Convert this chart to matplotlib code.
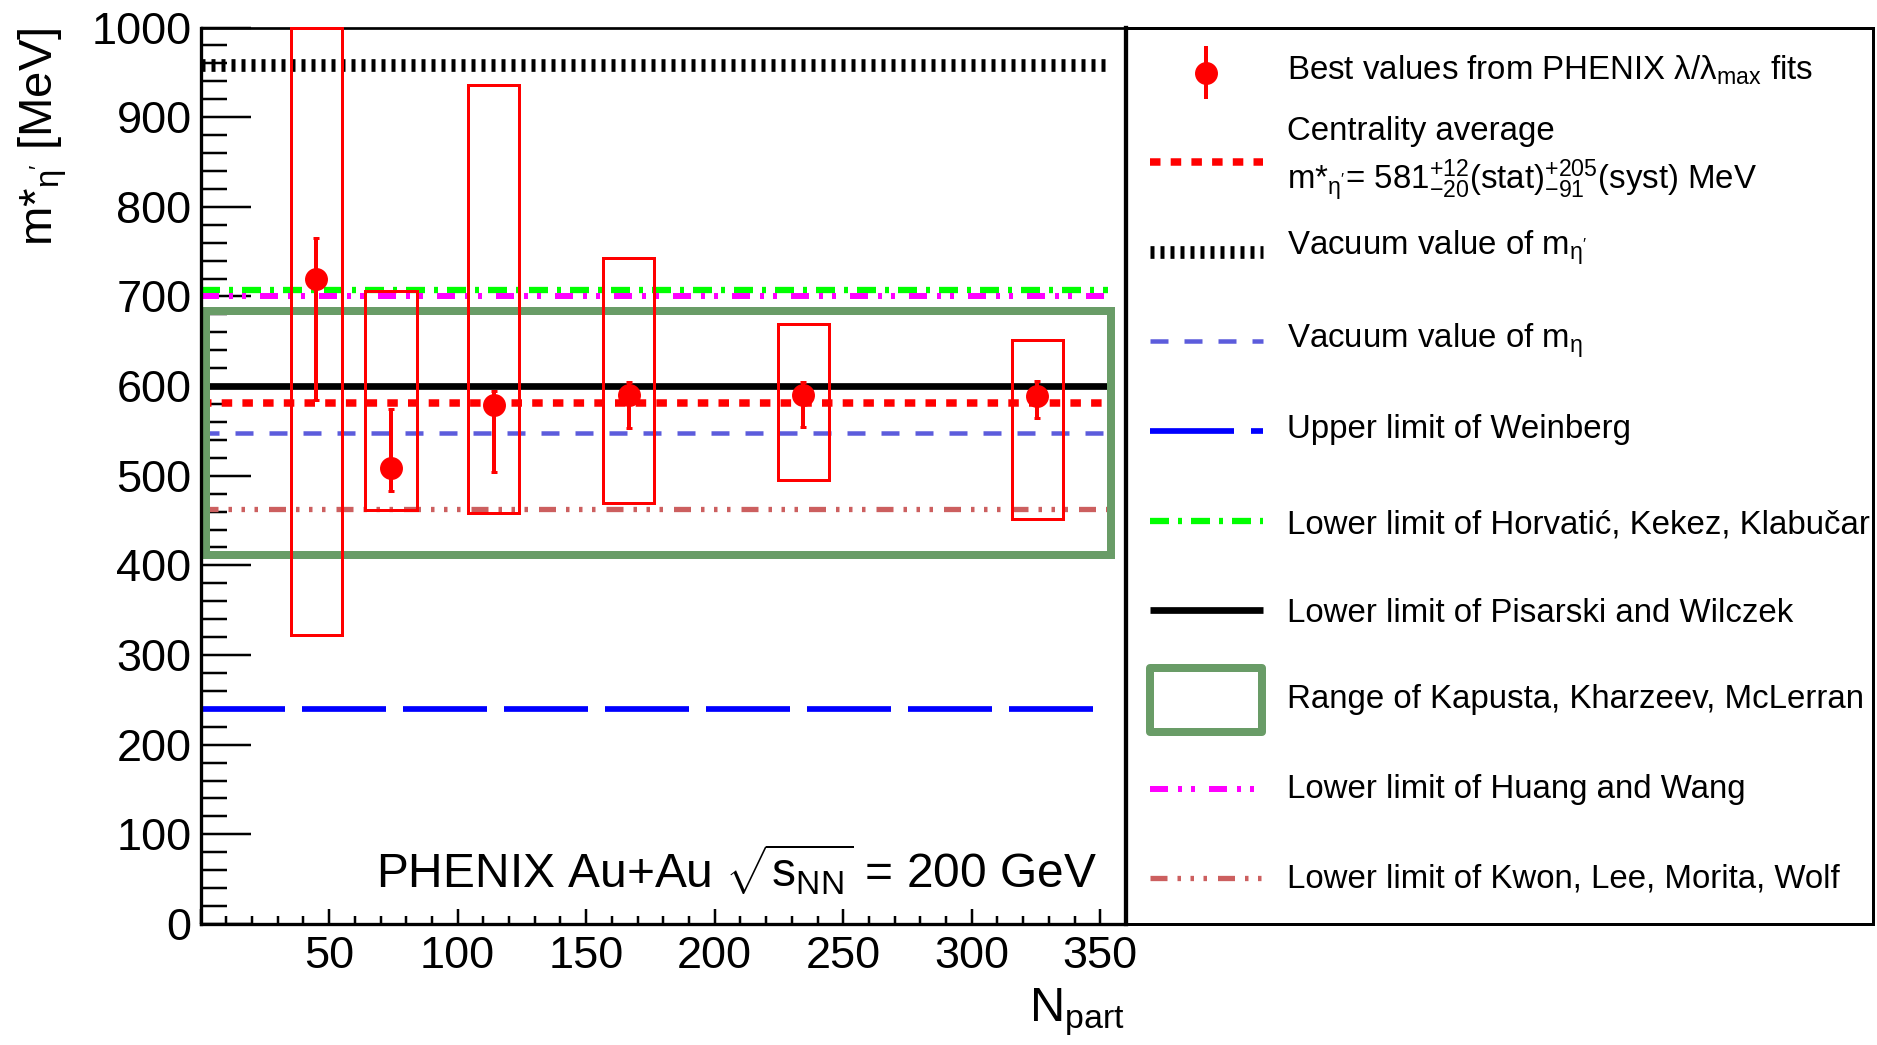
import matplotlib
matplotlib.use('Agg')
import matplotlib.pyplot as plt
from matplotlib.patches import Rectangle
from matplotlib.ticker import MultipleLocator, FuncFormatter

plt.rcParams['font.family'] = ['Liberation Sans', 'DejaVu Sans']
plt.rcParams['mathtext.fontset'] = 'custom'
plt.rcParams['mathtext.rm'] = 'Liberation Sans'
plt.rcParams['mathtext.it'] = 'Liberation Sans:italic'
plt.rcParams['mathtext.bf'] = 'Liberation Sans:bold'
plt.rcParams['lines.scale_dashes'] = False

# ---------------- data ----------------
npart = [45, 74, 114, 166.5, 234.5, 325.5]
mass = [719, 509, 579, 590, 590, 589]
stat_hi = [765, 575, 594, 605, 605, 606]
stat_lo = [584, 483, 504, 553, 554, 564]
syst_hi = [1000, 706, 936, 743, 669, 651]
syst_lo = [322, 462, 458, 470, 495, 452]

vac_etaprime = 958
centrality_avg = 581
vac_eta = 548
weinberg_upper = 240
horvatic_lower = 707
pisarski_lower = 600
huang_lower = 700
kwon_lower = 463
kapusta_range = [412, 684]
line_x_range = [0, 353]
kapusta_x_range = [2, 354]

legend_labels = [
    r'Best values from PHENIX $\mathregular{λ/λ_{max}}$ fits',
    'Centrality average',
    r"m*$\mathregular{_{η'}}$= 581$\mathregular{^{+12}_{-20}(stat)^{+205}_{-91}(syst)}$ MeV",
    r"Vacuum value of $\mathregular{m_{η'}}$",
    r'Vacuum value of $\mathregular{m_{η}}$',
    'Upper limit of Weinberg',
    'Lower limit of Horvatić, Kekez, Klabučar',
    'Lower limit of Pisarski and Wilczek',
    'Range of Kapusta, Kharzeev, McLerran',
    'Lower limit of Huang and Wang',
    'Lower limit of Kwon, Lee, Morita, Wolf',
]

# ---------------- styling helpers ----------------
PX = 0.72  # points per pixel at dpi 100
W, H = 1877, 1045


def box(l, t, r, b):
    return [l / W, 1 - b / H, (r - l) / W, (b - t) / H]


def dash(*px):
    return [v * PX for v in px]


RED = '#ff0000'
styles = {
    'etap': dict(color='black', lw=12.7 * PX, dashes=dash(4, 6)),
    'avg': dict(color=RED, lw=7.5 * PX, dashes=dash(10.5, 10.2)),
    'eta': dict(color='#5c5cdc', lw=4.5 * PX, dashes=dash(18, 16)),
    'wein': dict(color='#0000ff', lw=5.7 * PX, dashes=dash(84, 17)),
    'horv': dict(color='#00ff00', lw=6.3 * PX, dashes=dash(19, 9, 4, 9)),
    'pis': dict(color='black', lw=6.7 * PX, dashes=None),
    'huang': dict(color='#ff00ff', lw=6.0 * PX, dashes=dash(18, 10, 4, 9, 4, 14)),
    'kwon': dict(color='#cc5f5f', lw=5.3 * PX, dashes=dash(17, 10, 3.5, 9.5, 3.5, 9.5, 3.5, 11)),
}
KAP_COLOR = '#699c67'
KAP_LW = 8 * PX


def draw_line(axis, xs, ys, st, z=2):
    kw = dict(color=st['color'], lw=st['lw'], solid_capstyle='butt',
              dash_capstyle='butt', zorder=z)
    if st['dashes'] is not None:
        kw['dashes'] = st['dashes']
    axis.plot(xs, ys, **kw)


fig = plt.figure(figsize=(18.77, 10.45), dpi=100)
ax = fig.add_axes(box(200.6, 27.5, 1126, 924))
ax.set_xlim(0, 360)
ax.set_ylim(0, 1000)

# horizontal reference lines
for key, val in [('etap', vac_etaprime), ('horv', horvatic_lower), ('huang', huang_lower),
                 ('pis', pisarski_lower), ('eta', vac_eta), ('kwon', kwon_lower),
                 ('wein', weinberg_upper), ('avg', centrality_avg)]:
    draw_line(ax, line_x_range, [val, val], styles[key])

# Kapusta range box
ax.add_patch(Rectangle((kapusta_x_range[0], kapusta_range[0]),
                       kapusta_x_range[1] - kapusta_x_range[0],
                       kapusta_range[1] - kapusta_range[0],
                       fill=False, edgecolor=KAP_COLOR, lw=KAP_LW, zorder=2.5))

# systematic boxes
half_w = 10
for x, lo, hi in zip(npart, syst_lo, syst_hi):
    ax.add_patch(Rectangle((x - half_w, lo), 2 * half_w, hi - lo, fill=False,
                           edgecolor=RED, lw=3 * PX, zorder=3, clip_on=False))

# points with stat errors
yerr = [[m - l for m, l in zip(mass, stat_lo)], [h - m for m, h in zip(mass, stat_hi)]]
ax.errorbar(npart, mass, yerr=yerr, fmt='o', color=RED, ms=15.5, elinewidth=4 * PX,
            capsize=2.5, capthick=3 * PX, zorder=5)

# axes styling
ax.xaxis.set_major_locator(MultipleLocator(50))
ax.xaxis.set_minor_locator(MultipleLocator(10))
ax.yaxis.set_major_locator(MultipleLocator(100))
ax.yaxis.set_minor_locator(MultipleLocator(20))
ax.xaxis.set_major_formatter(FuncFormatter(lambda v, p: '' if v == 0 else '%d' % v))
ax.tick_params(axis='x', which='major', direction='in', length=15 * PX, width=2.5 * PX,
               labelsize=32.5, pad=9, top=False)
ax.tick_params(axis='x', which='minor', direction='in', length=8 * PX, width=2.5 * PX, top=False)
ax.tick_params(axis='y', which='major', direction='in', length=50 * PX, width=2.5 * PX,
               labelsize=32.5, pad=6.5, right=False)
ax.tick_params(axis='y', which='minor', direction='in', length=26 * PX, width=2.5 * PX, right=False)
for s in ['left', 'bottom']:
    ax.spines[s].set_linewidth(3.3 * PX)
ax.spines['top'].set_linewidth(2.7 * PX)
ax.spines['right'].set_linewidth(4.3 * PX)

ax.text(0.9686, 0.0416, r'PHENIX Au+Au $\sqrt{\mathregular{s_{NN}}}$ = 200 GeV',
        transform=ax.transAxes, ha='right', va='baseline', fontsize=34.5)
fig.text(1125 / W, 1 - 1021.7 / H, r'$\mathregular{N_{part}}$', ha='right', va='baseline',
         fontsize=35)
fig.text(43 / W, 1 - 27 / H, r"m*$\mathregular{_{η'}}$ [MeV]", rotation=90,
         ha='center', va='top', fontsize=34)

# ---------------- legend panel ----------------
lax = fig.add_axes(box(1126, 27.5, 1873, 924))
lax.set_xlim(1126, 1873)
lax.set_ylim(924, 27.5)
lax.set_xticks([])
lax.set_yticks([])
lax.patch.set_visible(False)
for s in lax.spines.values():
    s.set_linewidth(3 * PX)

sx0, sx1, tx = 1150, 1263, 1287
# marker sample
lax.errorbar([1206], [72.7], yerr=[[26.7], [26.7]], fmt='o', color=RED, ms=15.5,
             elinewidth=4 * PX, capsize=0)
sample_rows = [('avg', 162), ('etap', 252), ('eta', 341), ('wein', 431), ('horv', 521),
               ('pis', 610), ('huang', 789), ('kwon', 878)]
for key, y in sample_rows:
    draw_line(lax, [sx0, sx1], [y, y], styles[key])
lax.add_patch(Rectangle((sx0, 668), sx1 - sx0 - 1, 64, fill=False, edgecolor=KAP_COLOR,
                        lw=KAP_LW, joinstyle='round'))

baselines = [80, 140, 189, 255, 347.7, 437.7, 533.3, 621.7, 708.3, 798.3, 887.7]
for lab, yb in zip(legend_labels, baselines):
    lax.text(tx, yb, lab, ha='left', va='baseline', fontsize=23.8)

fig.savefig('out.png', dpi=100)
